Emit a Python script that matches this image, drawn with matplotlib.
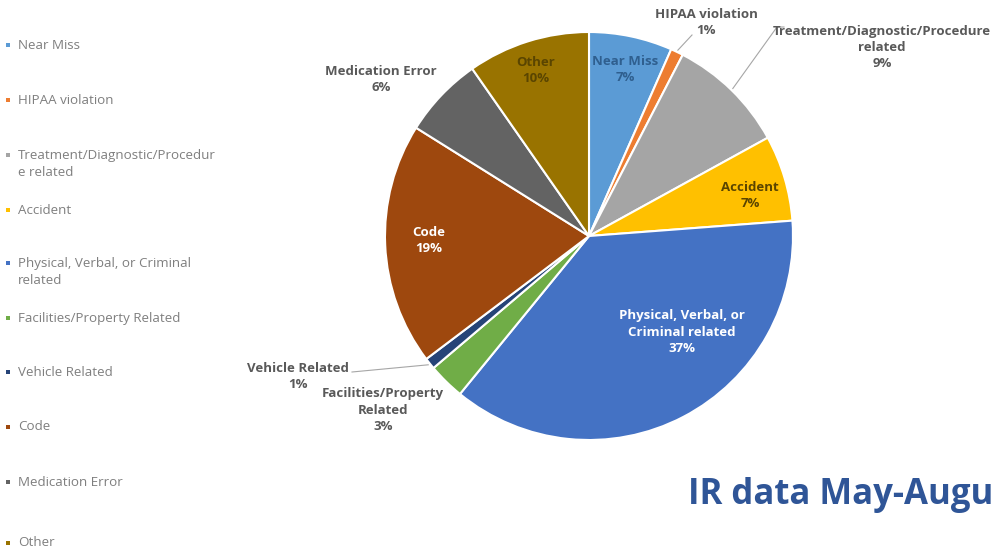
import numpy as np
import matplotlib
matplotlib.use("Agg")
import matplotlib.pyplot as plt

# Incident report categories (clockwise from 12 o'clock)
categories = ["Near Miss", "HIPAA violation", "Treatment/Diagnostic/Procedure related",
              "Accident", "Physical, Verbal, or Criminal related", "Facilities/Property Related",
              "Vehicle Related", "Code", "Medication Error", "Other"]
shares = [6.6, 1.0, 9.4, 6.8, 37.1, 2.9, 0.9, 19.2, 6.4, 9.7]
pct_labels = ["7%", "1%", "9%", "7%", "37%", "3%", "1%", "19%", "6%", "10%"]
legend_labels = ["Near Miss", "HIPAA violation", "Treatment/Diagnostic/Procedur\ne related",
                 "Accident", "Physical, Verbal, or Criminal\nrelated", "Facilities/Property Related",
                 "Vehicle Related", "Code", "Medication Error", "Other"]
slice_names = ["Near Miss", "HIPAA violation", "Treatment/Diagnostic/Procedure\nrelated",
               "Accident", "Physical, Verbal, or\nCriminal related", "Facilities/Property\nRelated",
               "Vehicle Related", "Code", "Medication Error", "Other"]
colors = ["#5B9BD5", "#ED7D31", "#A5A5A5", "#FFC000", "#4472C4",
          "#70AD47", "#264478", "#9E480E", "#636363", "#997300"]
# title as far as it is visible in the slide crop
title = "IR data May-Augu"

W, H = 995, 550
cx, cy, R = 589, 236, 204

# label layout in pixel coords (x, y of text centre), text colour, leader line end
label_pos = [(625, 69), (706, 22), (882, 47), (750, 195), (682, 332),
             (383, 410), (298, 377), (429, 240), (381, 79), (536, 70)]
label_col = ["#2f5f8f", "#595959", "#595959", "#5a4500", "#ffffff",
             "#595959", "#595959", "#ffffff", "#595959", "#5a4500"]
leaders = {1: [(692, 35)], 2: [(784, 27), (777, 27)], 6: [(352, 372)]}

plt.rcParams["font.family"] = ["Open Sans", "DejaVu Sans"]
fig = plt.figure(figsize=(W / 100, H / 100), dpi=100)
ax = fig.add_axes([0, 0, 1, 1])

wedges, _ = ax.pie(shares, colors=colors, startangle=90, counterclock=False,
                   center=(cx, H - cy), radius=R,
                   wedgeprops=dict(edgecolor="white", linewidth=1.5))
ax.set_xlim(0, W)
ax.set_ylim(0, H)
ax.set_aspect("equal")
ax.axis("off")

for i, w in enumerate(wedges):
    x, y = label_pos[i]
    ax.text(x, H - y, slice_names[i] + "\n" + pct_labels[i], ha="center", va="center",
            fontsize=9.5, fontweight="bold", color=label_col[i], linespacing=1.3)
    if i in leaders:
        mid = np.deg2rad((w.theta1 + w.theta2) / 2)
        ex = cx + (R + 2) * np.cos(mid)
        ey = (H - cy) + (R + 2) * np.sin(mid)
        pts = leaders[i] + [(ex, H - ey)]
        ax.plot([p[0] for p in pts], [H - p[1] for p in pts], color="#a6a6a6", linewidth=0.8)

# legend on the left
leg_y = [45, 100, 164, 210, 272, 318, 372, 427, 482, 543]
for i, lab in enumerate(legend_labels):
    y = leg_y[i]
    nlines = lab.count("\n") + 1
    top = y - (nlines - 1) * 9.5
    ax.scatter([8], [H - top], marker="s", s=10, color=colors[i], linewidths=0)
    ax.text(18, H - y, lab, ha="left", va="center", fontsize=9.6, color="#7f7f7f",
            linespacing=1.45)

fig.text(993 / W, 1 - 495 / H, title, ha="right", va="center",
         fontsize=25, fontweight="bold", color="#2F5597")

fig.savefig("out.png", dpi=100)
